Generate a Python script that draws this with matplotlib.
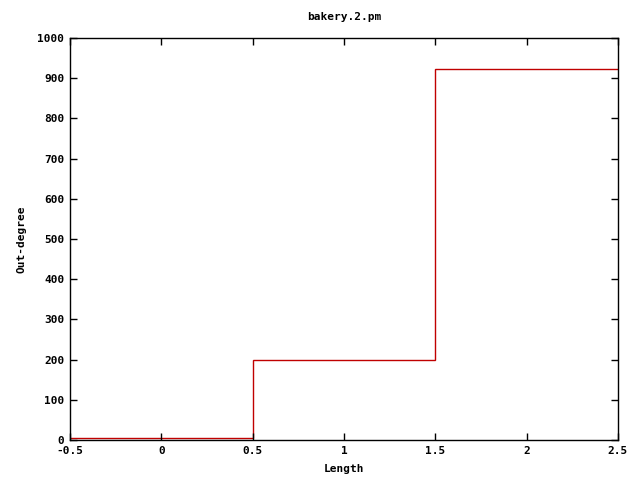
import matplotlib.pyplot as plt
import numpy as np

plt.rcParams['font.family'] = 'DejaVu Sans Mono'
plt.rcParams['font.weight'] = 'bold'
plt.rcParams['font.size'] = 8

lengths = [0, 1, 2]
outdeg = [5, 200, 922]
xticks = [-0.5, 0, 0.5, 1, 1.5, 2, 2.5]
xticklabels = ['-0.5', '0', '0.5', '1', '1.5', '2', '2.5']
yticks = list(range(0, 1001, 100))

fig = plt.figure(figsize=(6.4, 4.8), dpi=100)
ax = fig.add_axes([70 / 640, 1 - 440 / 480, 548 / 640, 402 / 480])

edges = np.concatenate([[lengths[0] - 0.5], np.array(lengths) + 0.5])
ax.stairs(outdeg, edges, baseline=None, color='#c00000', linewidth=1)

ax.set_xlim(-0.5, 2.5)
ax.set_ylim(0, 1000)
ax.set_xticks(xticks)
ax.set_xticklabels(xticklabels)
ax.set_yticks(yticks)
ax.tick_params(direction='in', top=True, right=True, length=5, width=1, pad=4)
for s in ax.spines.values():
    s.set_linewidth(1)

ax.set_xlabel('Length', labelpad=6, fontweight='bold')
ax.set_ylabel('Out-degree', labelpad=8, fontweight='bold')
ax.set_title('bakery.2.pm', pad=13, fontweight='bold', fontsize=8)

fig.savefig('out.png', dpi=100)
